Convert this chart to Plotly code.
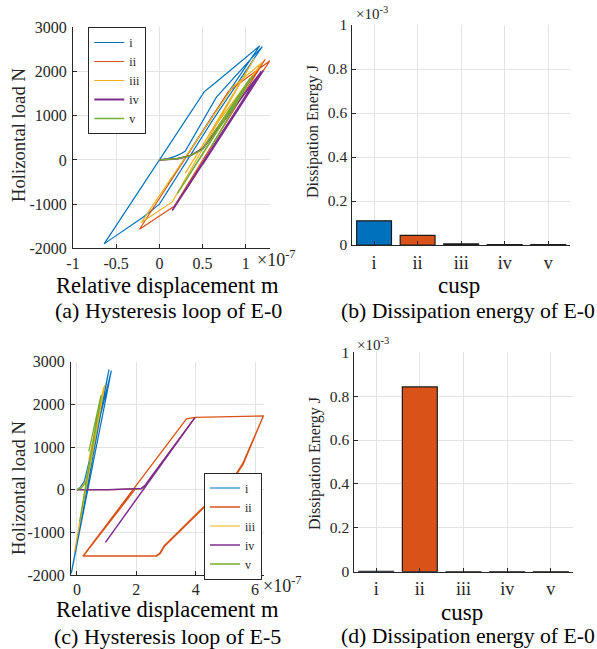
import plotly.graph_objects as go

# ---------------- data ----------------
# displacement in units of 1e-7 m, load in N
series_names = ["i", "ii", "iii", "iv", "v"]
colors = ["#0072BD", "#D95319", "#EDB120", "#7E2F8E", "#77AC30"]

# (a) E-0 hysteresis loops
a_i_x = [0, 0.1, 0.18, 0.24, 0.3, 0.66, 1.19, 0.6, 0.0, -0.19, -0.64, 0.0, 0.52, 0.62, 1.16, 0.6, 0.1]
a_i_y = [0, 30, 80, 130, 200, 1418, 2564, 850, -1000, -1297, -1900, 0, 1545, 1700, 2579, 950, -550]
a_ii_x = [0, 0.2, 0.35, 0.5, 1.225, 0.17, -0.23, 0.8, 1.28, 0.7, 0.3]
a_ii_y = [0, 25, 90, 250, 2276, -1050, -1568, 1550, 2246, 550, -700]
a_iii_x = [0, 0.2, 0.35, 0.47, 1.1, 0.15, -0.21, 0.85, 1.19, 0.6, 0.3]
a_iii_y = [0, 25, 90, 226, 2300, -950, -1418, 1650, 2202, 650, -300]
a_iv_x = [0, 0.2, 0.35, 0.5, 1.18, 0.148, 1.2, 0.5]
a_iv_y = [0, 25, 90, 250, 2000, -1147, 2020, -100]
a_v_x = [0, 0.2, 0.35, 0.5, 1.05, 0.21, 1.08, 0.6]
a_v_y = [0, 25, 90, 240, 1850, -755, 1900, 300]

# (c) E-5 hysteresis loops
c_i_x = [0, 0.12, 0.25, 1.16, -0.19, 1.08, 0.5]
c_i_y = [0, 60, 200, 2790, -1960, 2820, 800]
c_ii_x = [0, 1.2, 2.15, 2.3, 2.45, 3.98, 6.28, 5.6, 5.3, 2.96, 2.8, 2.68, 0.2, 3.69, 3.98, 6.28,
          5.58, 5.28, 2.94, 2.78, 2.66, 0.22, 1.95]
c_ii_y = [0, 0, 20, 100, 250, 1695, 1730, 600, 280, -1320, -1500, -1555, -1555, 1660, 1695, 1730,
          610, 290, -1310, -1495, -1550, -1550, 0]
c_iii_x = [0, 0.15, 0.3, 0.94, -0.08, 0.9, 0.4]
c_iii_y = [0, 50, 200, 2450, -1450, 2400, 700]
c_iv_x = [0, 1.0, 2.17, 2.3, 2.45, 3.98, 0.96, 3.98, 2.5]
c_iv_y = [0, 0, 30, 100, 250, 1695, -1235, 1695, 300]
c_v_x = [0, 0.15, 0.32, 0.82, 0.09, 0.8, 0.4]
c_v_y = [0, 40, 190, 2220, -750, 2180, 900]

# dissipation energy (units of 1e-3 J)
cusp_labels = ["i", "ii", "iii", "iv", "v"]
energy_b = [0.110, 0.044, 0.005, 0.002, 0.002]
energy_d = [0.002, 0.842, 0.001, 0.001, 0.001]

# ---------------- figure ----------------
FONT = "Liberation Serif"
AX = "#262626"
GRID = "#e3e3e3"
W, H = 597, 649

def px2x(px):
    return px / W

def py2y(py):
    return 1 - py / H

fig = go.Figure()

a_data = [(a_i_x, a_i_y), (a_ii_x, a_ii_y), (a_iii_x, a_iii_y), (a_iv_x, a_iv_y), (a_v_x, a_v_y)]
c_data = [(c_i_x, c_i_y), (c_ii_x, c_ii_y), (c_iii_x, c_iii_y), (c_iv_x, c_iv_y), (c_v_x, c_v_y)]
widths_a = [1.2, 1.2, 1.2, 1.8, 1.4]
widths_c = [1.2, 1.3, 1.2, 1.5, 1.3]

for k, (xs, ys) in enumerate(a_data):
    fig.add_trace(go.Scatter(x=xs, y=ys, mode="lines", name=series_names[k],
                             line=dict(color=colors[k], width=widths_a[k]),
                             xaxis="x", yaxis="y", legend="legend"))
for k, (xs, ys) in enumerate(c_data):
    fig.add_trace(go.Scatter(x=xs, y=ys, mode="lines", name=series_names[k],
                             line=dict(color=colors[k], width=widths_c[k]),
                             xaxis="x3", yaxis="y3", legend="legend2"))

fig.add_trace(go.Bar(x=[1, 2, 3, 4, 5], y=energy_b, width=0.8,
                     marker=dict(color=colors, line=dict(color="#1a1a1a", width=1.2)),
                     xaxis="x2", yaxis="y2", showlegend=False))
fig.add_trace(go.Bar(x=[1, 2, 3, 4, 5], y=energy_d, width=0.8,
                     marker=dict(color=colors, line=dict(color="#1a1a1a", width=1.2)),
                     xaxis="x4", yaxis="y4", showlegend=False))

common = dict(showline=True, linecolor=AX, linewidth=1, ticks="inside", ticklen=4,
              tickcolor=AX, showgrid=True, gridcolor=GRID, gridwidth=1,
              zeroline=False, mirror=False, automargin=False)
hx = {**common, "tickfont": dict(family=FONT, size=16, color=AX), "ticklabelstandoff": 0}
hy = {**common, "tickfont": dict(family=FONT, size=16, color=AX), "ticklabelstandoff": 2}
bx = {**common, "tickfont": dict(family=FONT, size=18, color=AX), "ticklabelstandoff": 1}
by = {**common, "tickfont": dict(family=FONT, size=15.5, color=AX), "ticklabelstandoff": 1}

dom_a = ([px2x(73), px2x(270)], [py2y(248.3), py2y(27.3)])
dom_b = ([px2x(352.3), px2x(570)], [py2y(245), py2y(25)])
dom_c = ([px2x(71), px2x(264)], [py2y(575), py2y(361.7)])
dom_d = ([px2x(354.3), px2x(572.7)], [py2y(571.7), py2y(352.3)])

load_ticks = [-2000, -1000, 0, 1000, 2000, 3000]
load_text = ["-2000", "-1000", "0", "1000", "2000", "3000"]
e_ticks = [0, 0.2, 0.4, 0.6, 0.8, 1.0]
e_text = ["0", "0.2", "0.4", "0.6", "0.8", "1"]

fig.update_layout(
    width=W, height=H,
    margin=dict(l=0, r=0, t=0, b=0, pad=0),
    paper_bgcolor="white", plot_bgcolor="white",
    font=dict(family=FONT, color=AX),
    bargap=0.2,
    xaxis=dict(domain=dom_a[0], anchor="y", range=[-1, 1.28],
               tickvals=[-1, -0.5, 0, 0.5, 1], ticktext=["-1", "-0.5", "0", "0.5", "1"], **hx),
    yaxis=dict(domain=dom_a[1], anchor="x", range=[-2000, 3000],
               tickvals=load_ticks, ticktext=load_text, **hy),
    xaxis2=dict(domain=dom_b[0], anchor="y2", range=[0.5, 5.5],
                tickvals=[1, 2, 3, 4, 5], ticktext=cusp_labels, **bx),
    yaxis2=dict(domain=dom_b[1], anchor="x2", range=[0, 1],
                tickvals=e_ticks, ticktext=e_text, **by),
    xaxis3=dict(domain=dom_c[0], anchor="y3", range=[-0.2, 6.3],
                tickvals=[0, 2, 4, 6], ticktext=["0", "2", "4", "6"], **hx),
    yaxis3=dict(domain=dom_c[1], anchor="x3", range=[-2000, 3000],
                tickvals=load_ticks, ticktext=load_text, **hy),
    xaxis4=dict(domain=dom_d[0], anchor="y4", range=[0.5, 5.5],
                tickvals=[1, 2, 3, 4, 5], ticktext=cusp_labels, **bx),
    yaxis4=dict(domain=dom_d[1], anchor="x4", range=[0, 1],
                tickvals=e_ticks, ticktext=e_text, **by),
    legend=dict(x=px2x(88.3), y=py2y(80.5), xanchor="left", yanchor="middle",
                bgcolor="white", bordercolor=AX, borderwidth=1,
                font=dict(family=FONT, size=12, color=AX), itemwidth=30,
                tracegroupgap=0),
    legend2=dict(x=px2x(262), y=py2y(526), xanchor="right", yanchor="middle",
                 bgcolor="white", bordercolor=AX, borderwidth=1,
                 font=dict(family=FONT, size=12, color=AX), itemwidth=30,
                 tracegroupgap=0),
)

def ann(text, px, py, size, angle=0, xanchor="center", color="#000000"):
    fig.add_annotation(text=text, x=px2x(px), y=py2y(py), xref="paper", yref="paper",
                       showarrow=False, textangle=angle, xanchor=xanchor, yanchor="middle",
                       font=dict(family=FONT, size=size, color=color))

# axis titles and captions
ann("Relative displacement m", 167.5, 285, 22.5)
ann("(a) Hysteresis loop of E-0", 168, 311, 22)
ann("Holizontal load N", 18, 135, 18.7, angle=-90, color=AX)
ann("cusp", 459, 286, 23)
ann("(b) Dissipation energy of E-0", 468, 311, 21.7)
ann("Dissipation Energy J", 313, 132, 16, angle=-90, color=AX)
ann("Relative displacement m", 167, 609.5, 22.5)
ann("(c) Hysteresis loop of E-5", 167.5, 636, 22)
ann("Holizontal load N", 18, 488, 18.7, angle=-90, color=AX)
ann("cusp", 462, 612, 23)
ann("(d) Dissipation energy of E-0", 468, 636, 21.7)
ann("Dissipation Energy J", 315, 464, 16, angle=-90, color=AX)

# exponent labels
ann("×10<sup>-7</sup>", 255, 258, 18, xanchor="left", color=AX)
ann("×10<sup>-7</sup>", 261, 584, 18, xanchor="left", color=AX)
ann("×10<sup>-3</sup>", 354, 13, 15, xanchor="left", color=AX)
ann("×10<sup>-3</sup>", 355, 344, 15, xanchor="left", color=AX)

fig.write_html("out.html", config={"displayModeBar": False},
               post_script="document.body.style.margin='0';document.body.style.padding='0';")
